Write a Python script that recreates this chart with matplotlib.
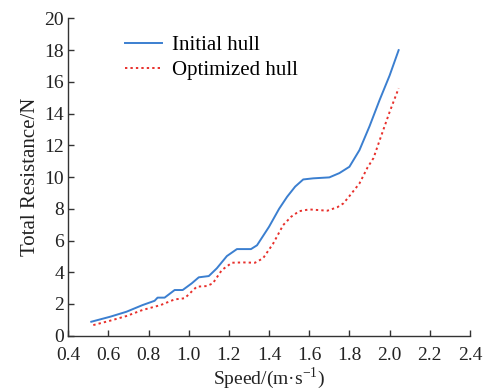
import numpy as np
import matplotlib
matplotlib.use('Agg')
import matplotlib.pyplot as plt

# speed [m/s] and total resistance [N]
initial_speed = [0.515, 0.61, 0.69, 0.77, 0.83, 0.845, 0.88, 0.93, 0.97, 1.015,
                 1.05, 1.10, 1.14, 1.19, 1.24, 1.31, 1.34, 1.40, 1.45, 1.49,
                 1.53, 1.57, 1.62, 1.70, 1.75, 1.80, 1.85, 1.90, 1.95, 2.00, 2.045]
initial_res = [0.88, 1.2, 1.51, 1.93, 2.2, 2.4, 2.4, 2.88, 2.88, 3.3,
               3.68, 3.76, 4.25, 5.02, 5.46, 5.46, 5.7, 6.87, 8.0, 8.76,
               9.4, 9.85, 9.92, 9.98, 10.25, 10.65, 11.7, 13.2, 14.85, 16.4, 18.0]

optimized_speed = [0.525, 0.61, 0.69, 0.77, 0.86, 0.93, 0.98, 1.04, 1.09, 1.12,
                   1.165, 1.215, 1.27, 1.33, 1.37, 1.42, 1.47, 1.51, 1.55, 1.60,
                   1.69, 1.74, 1.77, 1.80, 1.85, 1.89, 1.92, 1.95, 2.00, 2.045]
optimized_res = [0.67, 0.95, 1.24, 1.62, 1.93, 2.29, 2.36, 3.09, 3.13, 3.3,
                 4.14, 4.6, 4.62, 4.6, 4.88, 5.8, 6.97, 7.5, 7.85, 7.96,
                 7.88, 8.1, 8.34, 8.8, 9.6, 10.6, 11.2, 12.3, 14.1, 15.6]

x_ticks = [0.4, 0.6, 0.8, 1.0, 1.2, 1.4, 1.6, 1.8, 2.0, 2.2, 2.4]
y_ticks = [0, 2, 4, 6, 8, 10, 12, 14, 16, 18, 20]

plt.rcParams['font.family'] = ['Liberation Serif', 'DejaVu Serif']
plt.rcParams['mathtext.fontset'] = 'custom'
plt.rcParams['mathtext.rm'] = 'Liberation Serif'

fig = plt.figure(figsize=(4.87, 3.92), dpi=100)
ax = fig.add_axes([0.140, 0.1436, 0.825, 0.8094])

ax.plot(initial_speed, initial_res, color='#3b7fd0', lw=1.4, label='Initial hull')
ax.plot(optimized_speed, optimized_res, color='#e8302c', lw=1.4, ls=(0, (1.2, 1.6)),
        label='Optimized hull')

ax.set_xlim(0.4, 2.4)
ax.set_ylim(0, 20)
ax.set_xticks(x_ticks)
ax.set_xticklabels(['%.1f' % t for t in x_ticks])
ax.set_yticks(y_ticks)

ax.spines['top'].set_visible(False)
ax.spines['right'].set_visible(False)
for s in ('left', 'bottom'):
    ax.spines[s].set_color('#333333')
    ax.spines[s].set_linewidth(1.0)
ax.tick_params(direction='in', length=4, width=1.0, color='#333333',
               labelsize=14, labelcolor='#222222')
ax.tick_params(axis='x', pad=8)
ax.tick_params(axis='y', pad=3)

ax.set_xlabel('Speed/(m·s$^{\\mathregular{-1}}$)', fontsize=14, color='#222222', labelpad=1)
ax.set_ylabel('Total Resistance/N', fontsize=15, color='#222222', labelpad=3)

ax.legend(loc='upper left', bbox_to_anchor=(0.095, 1.005), frameon=False,
          fontsize=15, handlelength=1.75, handletextpad=0.5, labelspacing=0.25)

fig.savefig('out.png', dpi=100)
